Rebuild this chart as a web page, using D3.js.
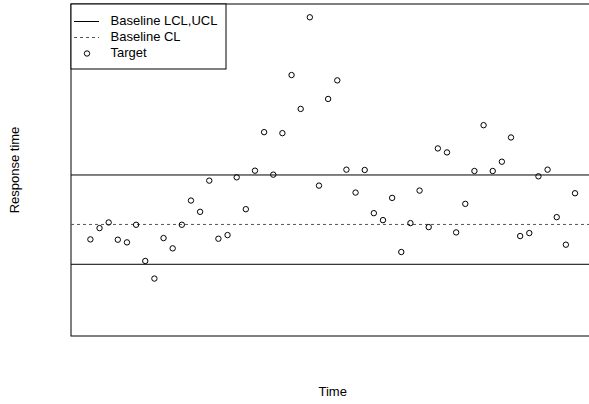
<!DOCTYPE html>
<html>
<head>
<meta charset="utf-8">
<script src="https://cdn.jsdelivr.net/npm/d3@7"></script>
<style>
  html, body { margin: 0; padding: 0; background: #fff; }
  svg { display: block; font-family: "Liberation Sans", Arial, Helvetica, sans-serif; }
</style>
</head>
<body>
<svg id="chart" width="589" height="404"></svg>
<script>
// ---- Data ----
const timeIndex = d3.range(1, 55);
const responseTime = [
  2.91, 3.25, 3.42, 2.90, 2.82, 3.35, 2.26, 1.73, 2.95, 2.64,
  3.35, 4.08, 3.74, 4.68, 2.93, 3.04, 4.78, 3.82, 4.98, 6.14,
  4.86, 6.11, 7.86, 6.84, 9.60, 4.53, 7.14, 7.70, 5.01, 4.32,
  5.00, 3.70, 3.49, 4.16, 2.53, 3.40, 4.38, 3.28, 5.65, 5.53,
  3.12, 3.98, 4.97, 6.35, 4.97, 5.25, 5.98, 3.01, 3.10, 4.81,
  5.01, 3.58, 2.75, 4.30
];
const baselineLimits = [2.16, 4.85];   // LCL, UCL
const baselineCL = [3.36];
const legendLabels = ["Baseline LCL,UCL", "Baseline CL", "Target"];
const xLabel = "Time";
const yLabel = "Response time";

// ---- Layout ----
const svg = d3.select("#chart");
const plot = { left: 71, top: 4, right: 594.4, bottom: 336 };

const x = d3.scaleLinear()
  .domain([1 - 53 * 0.04, 54 + 53 * 0.04])
  .range([plot.left, plot.right]);
const y = d3.scaleLinear()
  .domain([0, 10])
  .range([plot.bottom, plot.top]);

// plot box
svg.append("rect")
  .attr("x", plot.left).attr("y", plot.top)
  .attr("width", plot.right - plot.left).attr("height", plot.bottom - plot.top)
  .attr("fill", "none").attr("stroke", "#000").attr("stroke-width", 1);

// control lines
svg.selectAll("line.limit").data(baselineLimits).enter().append("line")
  .attr("class", "limit")
  .attr("x1", plot.left).attr("x2", plot.right)
  .attr("y1", d => y(d)).attr("y2", d => y(d))
  .attr("stroke", "#000").attr("stroke-width", 1);

svg.selectAll("line.cl").data(baselineCL).enter().append("line")
  .attr("class", "cl")
  .attr("x1", plot.left).attr("x2", plot.right)
  .attr("y1", d => y(d)).attr("y2", d => y(d))
  .attr("stroke", "#555").attr("stroke-width", 1)
  .attr("stroke-dasharray", "3,3");

// points
svg.selectAll("circle.pt").data(responseTime).enter().append("circle")
  .attr("class", "pt")
  .attr("cx", (d, i) => x(timeIndex[i]))
  .attr("cy", d => y(d))
  .attr("r", 2.7)
  .attr("fill", "none").attr("stroke", "#000").attr("stroke-width", 1);

// axis labels
svg.append("text")
  .attr("x", (plot.left + plot.right) / 2).attr("y", 393)
  .attr("text-anchor", "middle").attr("dominant-baseline", "middle")
  .attr("font-size", 13).text(xLabel);

svg.append("text")
  .attr("transform", `translate(16,${(plot.top + plot.bottom) / 2}) rotate(-90)`)
  .attr("text-anchor", "middle").attr("dominant-baseline", "middle")
  .attr("font-size", 13).text(yLabel);

// legend
const lg = svg.append("g");
lg.append("rect")
  .attr("x", plot.left).attr("y", plot.top)
  .attr("width", 226 - plot.left).attr("height", 69 - plot.top)
  .attr("fill", "#fff").attr("stroke", "#000").attr("stroke-width", 1);

const rowY = [21.5, 37.5, 53.5];
lg.append("line").attr("x1", 74).attr("x2", 99).attr("y1", rowY[0]).attr("y2", rowY[0])
  .attr("stroke", "#000");
lg.append("line").attr("x1", 74).attr("x2", 99).attr("y1", rowY[1]).attr("y2", rowY[1])
  .attr("stroke", "#555").attr("stroke-dasharray", "3,3");
lg.append("circle").attr("cx", 87).attr("cy", rowY[2]).attr("r", 2.7)
  .attr("fill", "none").attr("stroke", "#000");

lg.selectAll("text").data(legendLabels).enter().append("text")
  .attr("x", 110.5).attr("y", (d, i) => rowY[i])
  .attr("dominant-baseline", "middle")
  .attr("font-size", 13).text(d => d);
</script>
</body>
</html>
